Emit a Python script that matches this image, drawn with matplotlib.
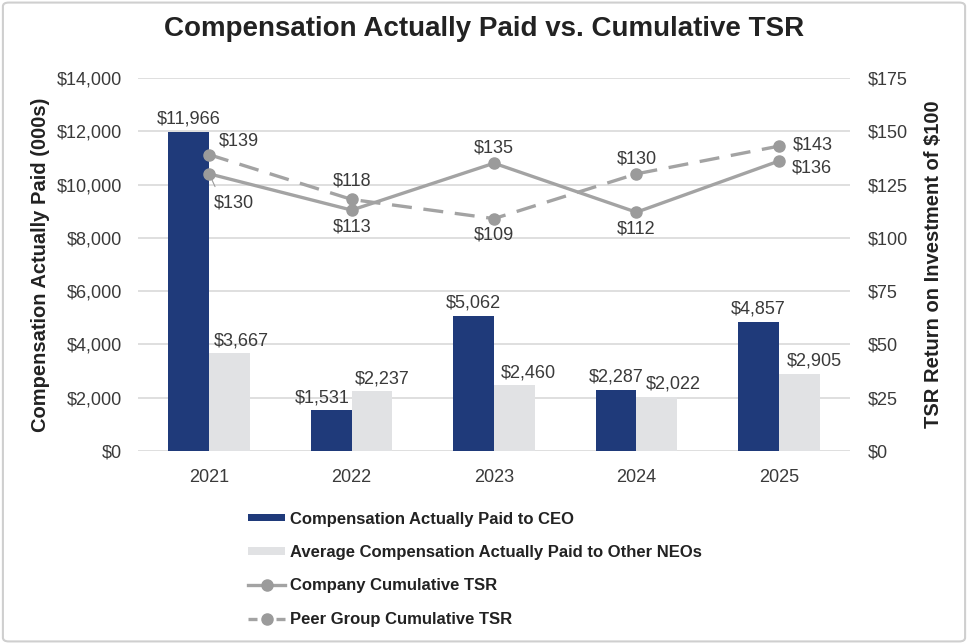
import numpy as np
import matplotlib.pyplot as plt
from matplotlib.lines import Line2D
from matplotlib.patches import FancyBboxPatch

plt.rcParams['font.family'] = ['Liberation Sans', 'DejaVu Sans']

# data
years = ['2021', '2022', '2023', '2024', '2025']
ceo_cap = [11966, 1531, 5062, 2287, 4857]
neo_cap = [3667, 2237, 2460, 2022, 2905]
company_tsr = [130, 113, 135, 112, 136]
peer_tsr = [139, 118, 109, 130, 143]

navy = '#1f3a7a'
light = '#e1e2e4'
grey_line = '#a3a3a3'
grey_mark = '#9b9b9b'
txt = '#3a3a3a'

fig = plt.figure(figsize=(9.68, 6.44), dpi=100)
ax = fig.add_axes([0.1426, 0.2997, 0.7355, 0.5793])
ax2 = ax.twinx()

x = np.arange(len(years))
w = 0.287
b1 = ax.bar(x - w / 2, ceo_cap, w, color=navy, zorder=2)
b2 = ax.bar(x + w / 2, neo_cap, w, color=light, zorder=2)

ax.set_xlim(-0.5, 4.5)
ax.set_ylim(0, 14000)
ax.set_yticks(np.arange(0, 14001, 2000))
ax.set_yticklabels(['${:,}'.format(v) for v in range(0, 14001, 2000)])
ax.set_xticks(x)
ax.set_xticklabels(years)
ax.grid(axis='y', color='#d9d9d9', linewidth=1.2, zorder=0)
ax.set_axisbelow(True)

ax2.set_ylim(0, 175)
ax2.set_yticks(np.arange(0, 176, 25))
ax2.set_yticklabels(['${}'.format(v) for v in range(0, 176, 25)])

for a in (ax, ax2):
    for s in a.spines.values():
        s.set_visible(False)
    a.tick_params(length=0, labelsize=13, labelcolor=txt)
ax.tick_params(axis='y', pad=11.5)
ax2.tick_params(axis='y', pad=13)
ax.tick_params(axis='x', pad=13)

ax.set_ylabel('Compensation Actually Paid (000s)', fontsize=14.5, fontweight='bold', color='#222222', labelpad=5)
ax2.set_ylabel('TSR Return on Investment of $100', fontsize=14.5, fontweight='bold', color='#222222', labelpad=11)

l1, = ax2.plot(x, company_tsr, color=grey_line, lw=2.4, marker='o', markersize=8,
               markerfacecolor=grey_mark, markeredgecolor=grey_mark, zorder=3)
l2, = ax2.plot(x, peer_tsr, color=grey_line, lw=2.4, ls=(0, (6, 3.5)), marker='o', markersize=8,
               markerfacecolor=grey_mark, markeredgecolor=grey_mark, zorder=3)

# bar value labels (x offsets in points to keep neighbours apart)
ceo_off = [0, -6.5, 0, 0, 0]
neo_off = [8.5, 7, 10, 11.5, 11]
for i in range(len(years)):
    ax.annotate('${:,}'.format(ceo_cap[i]), (x[i] - w / 2, ceo_cap[i]), xytext=(ceo_off[i], 3),
                textcoords='offset points', ha='center', va='bottom', fontsize=13, color=txt)
    ax.annotate('${:,}'.format(neo_cap[i]), (x[i] + w / 2, neo_cap[i]), xytext=(neo_off[i], 3),
                textcoords='offset points', ha='center', va='bottom', fontsize=13, color=txt)

# line value labels
comp_pos = [(3, -21, 'left'), (0, -12, 'center'), (0, 11, 'center'), (0, -12, 'center'), (9.5, -5, 'left')]
peer_pos = [(7, 9.5, 'left'), (0, 13, 'center'), (0, -11.5, 'center'), (0, 11, 'center'), (10, 1, 'left')]
for i in range(len(years)):
    dx, dy, ha = comp_pos[i]
    ax2.annotate('${}'.format(company_tsr[i]), (x[i], company_tsr[i]), xytext=(dx, dy),
                 textcoords='offset points', ha=ha, va='center', fontsize=13, color=txt)
    dx, dy, ha = peer_pos[i]
    ax2.annotate('${}'.format(peer_tsr[i]), (x[i], peer_tsr[i]), xytext=(dx, dy),
                 textcoords='offset points', ha=ha, va='center', fontsize=13, color=txt)
# small leader line for the 2021 company label
ax2.annotate('', (x[0], company_tsr[0]), xytext=(5, -11), textcoords='offset points',
             arrowprops=dict(arrowstyle='-', color=grey_mark, lw=0.8))

# legend proxies for the lines (one dash either side of the marker)
h3 = Line2D([], [], color=grey_line, lw=2.4, marker='o', markersize=8,
            markerfacecolor=grey_mark, markeredgecolor=grey_mark)
h4 = Line2D([], [], color=grey_line, lw=2.4, ls=(0, (2.7, 5.7)), marker='o', markersize=8,
            markerfacecolor=grey_mark, markeredgecolor=grey_mark)
leg = fig.legend(handles=[b1, b2, h3, h4],
                 labels=['Compensation Actually Paid to CEO',
                         'Average Compensation Actually Paid to Other NEOs',
                         'Company Cumulative TSR', 'Peer Group Cumulative TSR'],
                 loc='upper left', bbox_to_anchor=(0.241, 0.229),
                 frameon=False, ncol=1, handlelength=2.2, handleheight=0.3, handletextpad=0.3,
                 labelspacing=1.1, prop={'weight': 'bold', 'size': 12})
for t in leg.get_texts():
    t.set_color('#222222')

fig.suptitle('Compensation Actually Paid vs. Cumulative TSR', x=0.5, y=0.975,
             fontsize=20, fontweight='bold', color='#222222')

# thin light frame around the whole picture
border = FancyBboxPatch((0.003, 0.004), 0.994, 0.992, boxstyle='round,pad=0,rounding_size=0.006',
                        transform=fig.transFigure, facecolor='none', edgecolor='#cfcfcf', lw=1.5)
fig.patches.append(border)

fig.savefig('out.png', dpi=100)
